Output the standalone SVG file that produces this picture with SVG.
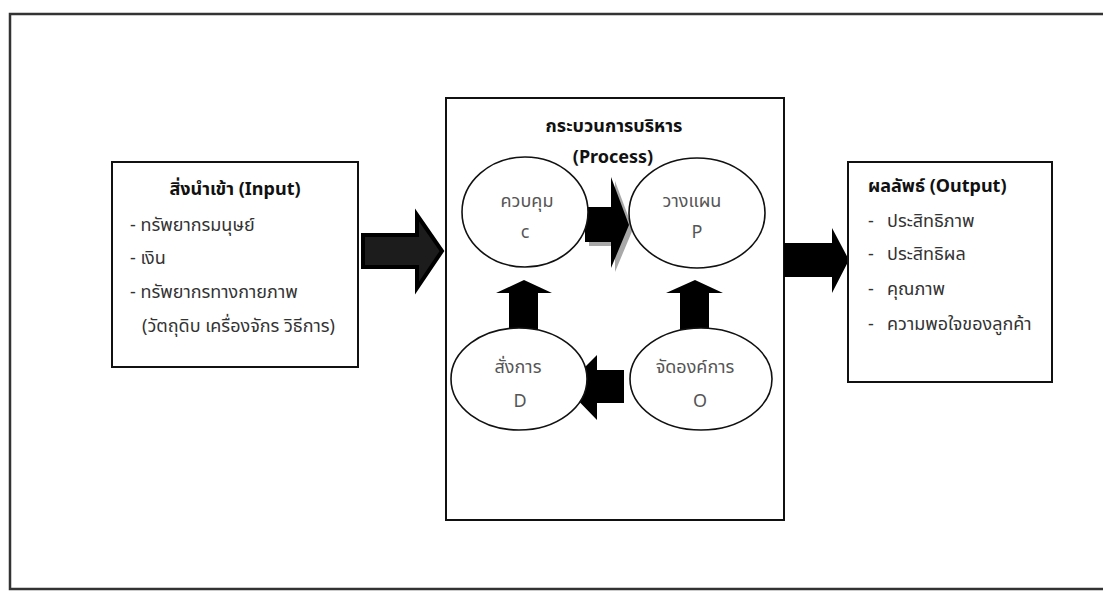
<svg xmlns="http://www.w3.org/2000/svg" width="1103" height="592" viewBox="0 0 1103 592">
  <style>
    .frame { fill: #ffffff; stroke: #333333; stroke-width: 2.5; }
    .box { fill: #ffffff; stroke: #111111; stroke-width: 2; }
    .oval { fill: #ffffff; stroke: #111111; stroke-width: 1.6; }
    .title { font-family: "Noto Sans", "Noto Sans Thai", "DejaVu Sans", sans-serif; font-size: 18px; font-weight: bold; fill: #111111; }
    .item { font-family: "Noto Sans", "Noto Sans Thai", "DejaVu Sans", sans-serif; font-size: 18px; fill: #333333; }
    .lbl { font-family: "Noto Sans", "Noto Sans Thai", "DejaVu Sans", sans-serif; font-size: 18px; fill: #555555; text-anchor: middle; }
    .arrow { fill: #000000; }
    .shadow { fill: #a8a8a8; }
  </style>

  <!-- outer frame -->
  <rect class="frame" x="10" y="14" width="1110" height="575"/>

  <!-- process container, drawn first so its arrows and ovals sit on top -->
  <g id="process">
    <rect class="box" x="446" y="98" width="338" height="422"/>
    <text class="title" x="614" y="132" text-anchor="middle">กระบวนการบริหาร</text>
    <text class="title" x="613" y="163" text-anchor="middle">(Process)</text>
  </g>

  <!-- connectors: block arrows -->
  <g id="connectors">
    <!-- input to process -->
    <polygon points="363,235 417,235 417,215 442,251 417,288 417,267 363,267" fill="#1c1c1c" stroke="#000" stroke-width="4" stroke-linejoin="miter"/>
    <!-- process to output -->
    <polygon class="arrow" points="784,243 832,243 832,228 849,260 832,293 832,277 784,277"/>
    <!-- control to plan, with drop shadow -->
    <polygon class="shadow" points="589,211 615,211 615,181 633,229 615,272 615,246 589,246"/>
    <polygon class="arrow" points="585,207 611,207 611,177 629,225 611,268 611,242 585,242"/>
    <!-- direct up to control -->
    <polygon class="arrow" points="509,332 509,293 496,293 524,280 552,293 538,293 538,332"/>
    <!-- organize up to plan -->
    <polygon class="arrow" points="680,332 680,293 666,293 695,280 723,293 709,293 709,332"/>
    <!-- organize to direct -->
    <polygon class="arrow" points="624,370 597,370 597,355 565,387 597,420 597,403 624,403"/>
  </g>

  <!-- input box -->
  <g id="input">
    <rect class="box" x="112" y="162" width="246" height="205"/>
    <text class="title" x="235" y="195" text-anchor="middle">สิ่งนำเข้า (Input)</text>
    <text class="item" x="130" y="231">- ทรัพยากรมนุษย์</text>
    <text class="item" x="130" y="264">- เงิน</text>
    <text class="item" x="130" y="298">- ทรัพยากรทางกายภาพ</text>
    <text class="item" x="142" y="332">(วัตถุดิบ เครื่องจักร วิธีการ)</text>
  </g>

  <g id="node-c">
    <ellipse class="oval" cx="525" cy="212" rx="63" ry="55"/>
    <text class="lbl" x="527" y="207">ควบคุม</text>
    <text class="lbl" x="525" y="238">c</text>
  </g>

  <g id="node-p">
    <ellipse class="oval" cx="697" cy="213" rx="68" ry="55"/>
    <text class="lbl" x="692" y="207">วางแผน</text>
    <text class="lbl" x="697" y="238">P</text>
  </g>

  <g id="node-d">
    <ellipse class="oval" cx="519" cy="379" rx="68" ry="51"/>
    <text class="lbl" x="518" y="373">สั่งการ</text>
    <text class="lbl" x="520" y="407">D</text>
  </g>

  <g id="node-o">
    <ellipse class="oval" cx="701" cy="379" rx="71" ry="51"/>
    <text class="lbl" x="695" y="373">จัดองค์การ</text>
    <text class="lbl" x="700" y="407">O</text>
  </g>

  <!-- output box -->
  <g id="output">
    <rect class="box" x="848" y="162" width="204" height="220"/>
    <text class="title" x="868" y="192">ผลลัพธ์ (Output)</text>
    <text class="item" x="868" y="227">-</text>
    <text class="item" x="887" y="227">ประสิทธิภาพ</text>
    <text class="item" x="868" y="260">-</text>
    <text class="item" x="887" y="260">ประสิทธิผล</text>
    <text class="item" x="868" y="295">-</text>
    <text class="item" x="887" y="295">คุณภาพ</text>
    <text class="item" x="868" y="330">-</text>
    <text class="item" x="887" y="330">ความพอใจของลูกค้า</text>
  </g>
</svg>
